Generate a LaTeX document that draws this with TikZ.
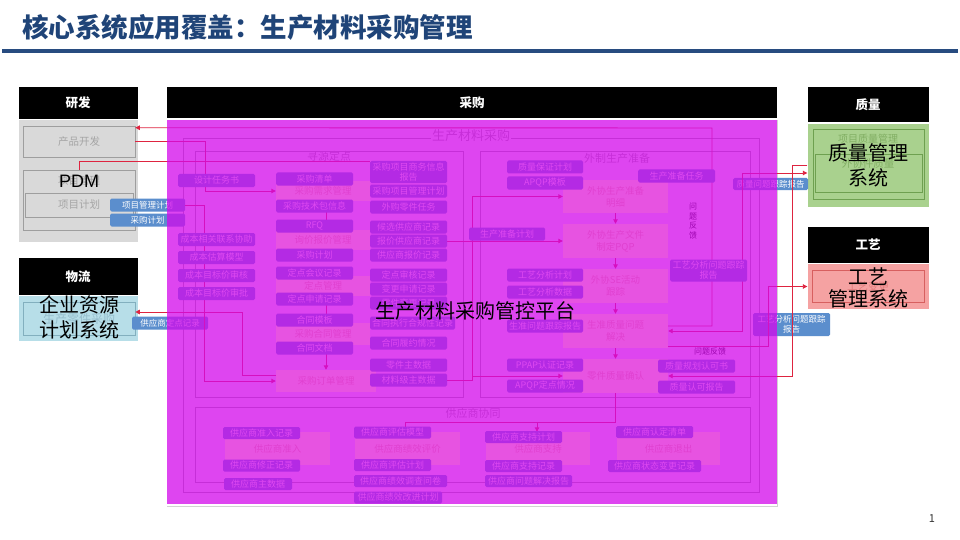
\documentclass[tikz,border=0pt]{standalone}
\usepackage{fontspec}
\setmainfont{Noto Sans CJK SC}
\newfontfamily\latinf{Liberation Sans}
\usetikzlibrary{arrows.meta}
\definecolor{titleblue}{RGB}{31,68,120}
\definecolor{ruleblue}{RGB}{40,76,128}
\definecolor{boxblue}{RGB}{91,142,205}
\definecolor{boxpurple}{RGB}{180,42,228}
\definecolor{boxptext}{RGB}{223,72,241}
\definecolor{pinkbox}{RGB}{255,228,238}
\definecolor{pinktext}{RGB}{205,120,140}
\definecolor{pinktint}{RGB}{255,130,200}
\definecolor{framegray}{RGB}{160,160,160}
\definecolor{linered}{RGB}{222,36,64}
\definecolor{magov}{RGB}{212,8,236}
\definecolor{panelgray}{RGB}{217,217,217}
\definecolor{panelblue}{RGB}{183,222,232}
\definecolor{panelgreen}{RGB}{169,209,142}
\definecolor{panelpink}{RGB}{245,162,162}
\definecolor{gboxline}{RGB}{158,158,158}
\definecolor{gboxtext}{RGB}{165,165,165}
\definecolor{bboxline}{RGB}{130,175,190}
\definecolor{bboxtext}{RGB}{150,190,205}
\definecolor{grline}{RGB}{110,160,80}
\definecolor{grtext}{RGB}{130,175,100}
\definecolor{pkline}{RGB}{215,95,95}
\definecolor{pktext}{RGB}{225,125,125}
\begin{document}
\begin{tikzpicture}[x=1pt,y=-1pt,
  hdr/.style={fill=black, text=white, inner sep=0pt, font=\bfseries\fontsize{12.5}{14}\selectfont},
  panel/.style={inner sep=0pt, draw=none},
  bb/.style={fill=boxpurple, text=boxptext, rounded corners=1.5pt, inner sep=0pt, minimum height=13pt, font=\fontsize{9}{10}\selectfont, align=center},
  lb/.style={fill=boxblue, text=white, rounded corners=1.5pt, inner sep=0pt, minimum height=13pt, font=\fontsize{8.5}{9.5}\selectfont, align=center},
  pk/.style={fill=pinkbox, text=pinktext, inner sep=0pt, font=\fontsize{9.5}{12}\selectfont, align=center},
  tint/.style={fill=pinktint, opacity=0.3},
  frm/.style={draw=framegray, line width=0.6pt, inner sep=0pt},
  ftitle/.style={text=framegray, inner sep=1pt, font=\fontsize{11}{12}\selectfont},
  con/.style={draw=linered, line width=0.9pt},
  arr/.style={-{Triangle[length=4.5pt,width=4.5pt]}},
  gbox/.style={draw=gboxline, text=gboxtext, line width=0.6pt, inner sep=0pt, font=\fontsize{10.5}{12}\selectfont},
  big/.style={text=black, inner sep=0pt, align=center, font=\fontsize{20}{25}\selectfont},
  fb/.style={text=black, inner sep=0pt, align=center, font=\fontsize{8}{9.5}\selectfont}
]
\useasboundingbox (0,0) rectangle (960,540);
\fill[white] (0,0) rectangle (960,540);

% title
\node[anchor=west, text=titleblue, inner sep=0pt, font=\bfseries\fontsize{26.5}{29}\selectfont] (title) at (22,27) {核心系统应用覆盖：生产材料采购管理};
\draw[ruleblue, line width=3.5pt] (2,51) -- (958,51);
\node[inner sep=0pt, text=black!80, font=\fontsize{11}{12}\selectfont] (pgno) at (932,519) {1};

% headers
\node[hdr, minimum width=119, minimum height=32] (hYF) at (78,103) {研发};
\node[hdr, minimum width=610, minimum height=31] (hCG) at (472,103) {采购};
\node[hdr, minimum width=119, minimum height=37] (hWL) at (78,276.5) {物流};
\node[hdr, minimum width=121, minimum height=35] (hZL) at (868,104.5) {质量};
\node[hdr, minimum width=121, minimum height=36] (hGY) at (868,245) {工艺};

% side panels
\node[panel, fill=panelgray, minimum width=119, minimum height=122] (pYF) at (78,181) {};
\node[panel, fill=panelblue, minimum width=119, minimum height=45] (pWL) at (78,318.5) {};
\node[panel, fill=panelgreen, minimum width=121, minimum height=83] (pZL) at (868,165.5) {};
\node[panel, fill=panelpink, minimum width=121, minimum height=45] (pGY) at (868,286.5) {};

\node[gbox, minimum width=112, minimum height=31] (cpkf) at (79,141.5) {产品开发};
\node[gbox, minimum width=112, minimum height=60] (xmgl) at (79,200) {};
\node[text=gboxtext, inner sep=0pt, font=\fontsize{10.5}{12}\selectfont] (xmglT) at (79,180) {项目管理};
\node[gbox, minimum width=108, minimum height=24] (xmjh) at (79,205) {项目计划};

\node[gbox, draw=bboxline, text=bboxtext, minimum width=112, minimum height=33, font=\fontsize{12}{13}\selectfont] (scljcg) at (79,318.5) {生产零件采购};

\node[gbox, draw=grline, text=grtext, minimum width=111, minimum height=70] (xmzl) at (868.5,164) {};
\node[text=grtext, inner sep=0pt, font=\fontsize{10}{12}\selectfont] (xmzlT) at (868,139) {项目质量管理};
\node[gbox, draw=grline, minimum width=107, minimum height=38] (wxj) at (868.5,173) {};
\node[text=grtext, inner sep=0pt, font=\fontsize{10.5}{12}\selectfont] (wxjT) at (868,164) {外协件质量};
\node[gbox, draw=pkline, text=pktext, minimum width=112, minimum height=32] (gybg) at (868,286) {工艺变更};

% purchase panel border
\draw[gray!35, line width=0.8pt] (167,506) -- (777,506) -- (777,120);

% frames inside
\node[frm, minimum width=576, minimum height=354] (fOuter) at (471,315) {};
\node[frm, minimum width=268, minimum height=246] (fXY) at (329,274) {};
\node[frm, minimum width=270, minimum height=246] (fWZ) at (615,274) {};
\node[frm, minimum width=555, minimum height=75] (fGY) at (472.5,444.5) {};
\node[ftitle, fill=white, font=\fontsize{13}{14}\selectfont] (tOuter) at (471,136) {生产材料采购};
\node[ftitle] (tXY) at (329,156) {寻源定点};
\node[ftitle] (tWZ) at (617,158) {外制生产准备};
\node[ftitle] (tGYS) at (473,413) {供应商协同};

% pink process boxes
\node[pk, minimum width=94, minimum height=20] (p21) at (323,191) {采购需求管理};
\node[pk, minimum width=94, minimum height=20] (p22) at (323,240) {询价报价管理};
\node[pk, minimum width=94, minimum height=20] (p23) at (323,286) {定点管理};
\node[pk, minimum width=94, minimum height=22] (p24) at (323,334) {采购合同管理};
\node[pk, minimum width=100, minimum height=22] (p25) at (326,381) {采购订单管理};

\node[pk, minimum width=105, minimum height=33] (q1) at (615.5,196.5) {外协生产准备\\明细};
\node[pk, minimum width=105, minimum height=34] (q2) at (615.5,241) {外协生产文件\\制定PQP};
\node[pk, minimum width=105, minimum height=34] (q3) at (615.5,286) {外协SE活动\\跟踪};
\node[pk, minimum width=105, minimum height=34] (q4) at (615.5,331) {生准质量问题\\解决};
\node[pk, minimum width=105, minimum height=34] (q5) at (615.5,376) {零件质量确认};

\node[pk, minimum width=105, minimum height=33] (ps1) at (277.5,448.5) {供应商准入};
\node[pk, minimum width=105, minimum height=33] (ps2) at (407.5,448.5) {供应商绩效评价};
\node[pk, minimum width=104, minimum height=33] (ps3) at (538,448.5) {供应商支持};
\node[pk, minimum width=103, minimum height=33] (ps4) at (668.5,448.5) {供应商退出};

% named points
\coordinate (x537) at (537,0);
\coordinate (x405) at (405,0);
\coordinate (j1) at (472,376);
\coordinate (b313e) at (447,380);
\coordinate (b35e) at (447,241);
\coordinate (b31nw) at (370,161);
\coordinate (c328) at (326,0);

% crossing labels
\node[lb, minimum width=75] (lbl1) at (147.5,205) {项目管理计划};
\node[lb, minimum width=75] (lbl2) at (147.5,220) {采购计划};
\node[lb, minimum width=76] (lbl3) at (170,323) {供应商定点记录};
\node[lb, minimum width=75, minimum height=12] (lbl4) at (770.5,184) {质量问题跟踪报告};
\node[lb, minimum width=77, minimum height=23] (lbl5) at (791.5,324.5) {工艺分析问题跟踪\\报告};

% connectors
\draw[con, arr] ([yshift=5pt]q4.east) -| (712,128) -- ([yshift=-2pt]cpkf.north east);
\draw[con, arr] (cpkf.east) -| (205,191) -- (p21.west);
\draw[con] (xmgl.north) |- (b31nw);
\draw[con, arr] (b313e) -| (472,196.5) -- (q1.west);
\draw[con, arr] (b35e) -- (q2.west);
\draw[con, arr] (j1) -- (q5.west);
\draw[con, arr] (q1.south) -- (q2.north);
\draw[con, arr] (q2.south) -- (q3.north);
\draw[con, arr] (q3.south) -- (q4.north);
\draw[con, arr] (q4.south) -- (q5.north);
\draw[con] (c328 |- 0,212) -- (c328 |- 0,220);
\draw[con] (c328 |- 0,305) -- (c328 |- 0,314);
\draw[con, arr] (c328 |- 0,354) -- (p25.north);
\draw[con, {Triangle[length=4.5pt,width=4.5pt]}-{Triangle[length=4.5pt,width=4.5pt]}] (q4.east) -| (742,173) -- ([yshift=-7.5pt]pZL.west);
\draw[con, arr] (pZL.west) -| (792,376) -- (q5.east);
\draw[con, arr] ([yshift=-15pt]q4.east) -| (768,286.5) -- (pGY.west);
\draw[con, arr] (q5.south) |- (537,422) -- (x537 |- ps3.north);
\draw[con, arr] (q5.south) |- (405,422) -- (x405 |- ps2.north);
\draw[con, arr] (lbl1.east) -| (204,381) -- (p25.west);
\draw[con, arr] ([yshift=6pt]p25.west) -| (242,312) -- ([yshift=6.5pt]scljcg.east);

\node[fb] (fk1) at (693,221) {问\\题\\反\\馈};
\node[fb] (fk2) at (710,351) {问题反馈};

% magenta overlay
\fill[magov, opacity=0.75] (167,120) rectangle (777,504);
\foreach \n in {p21,p22,p23,p24,p25,q1,q2,q3,q4,q5,ps1,ps2,ps3,ps4}
  \fill[tint] (\n.north west) rectangle (\n.south east);

% boxes (seen through the overlay): column 1
\node[bb, minimum width=77] (b11) at (216.5,180.5) {设计任务书};
\node[bb, minimum width=77] (b12) at (216.5,239.5) {成本相关联系协助};
\node[bb, minimum width=77] (b13) at (216.5,257.5) {成本估算模型};
\node[bb, minimum width=77] (b14) at (216.5,275.5) {成本目标价审核};
\node[bb, minimum width=77] (b15) at (216.5,293.5) {成本目标价审批};
% column 2
\node[bb, minimum width=77] (b21) at (314.5,179) {采购清单};
\node[bb, minimum width=77] (b22) at (314.5,206) {采购技术包信息};
\node[bb, minimum width=77] (b23) at (314.5,226) {RFQ};
\node[bb, minimum width=77] (b24) at (314.5,255) {采购计划};
\node[bb, minimum width=77] (b25) at (314.5,273) {定点会议记录};
\node[bb, minimum width=77] (b26) at (314.5,299) {定点申请记录};
\node[bb, minimum width=77] (b27) at (314.5,320) {合同模板};
\node[bb, minimum width=77] (b28) at (314.5,348) {合同文档};
% column 3
\node[bb, minimum width=77, minimum height=22] (b31) at (408.5,172) {采购项目商务信息\\报告};
\node[bb, minimum width=77] (b32) at (408.5,191) {采购项目管理计划};
\node[bb, minimum width=77] (b33) at (408.5,207) {外购零件任务};
\node[bb, minimum width=77] (b34) at (408.5,227) {候选供应商记录};
\node[bb, minimum width=77] (b35) at (408.5,241) {报价供应商记录};
\node[bb, minimum width=77] (b36) at (408.5,255) {供应商报价记录};
\node[bb, minimum width=77] (b37) at (408.5,275) {定点审核记录};
\node[bb, minimum width=77] (b38) at (408.5,289) {变更申请记录};
\node[bb, minimum width=77] (b39) at (408.5,303) {零件变更记录};
\node[bb, minimum width=85] (b310) at (412.5,323) {合同执行合规性记录};
\node[bb, minimum width=77] (b311) at (408.5,343) {合同履约情况};
\node[bb, minimum width=77] (b312) at (408.5,365) {零件主数据};
\node[bb, minimum width=77] (b313) at (408.5,380) {材料级主数据};
% column 4
\node[bb, minimum width=76] (b41) at (545,167) {质量保证计划};
\node[bb, minimum width=76] (b42) at (545,183) {APQP模板};
\node[bb, minimum width=76] (b43) at (507,234) {生产准备计划};
\node[bb, minimum width=76] (b44) at (545,275) {工艺分析计划};
\node[bb, minimum width=76] (b45) at (545,292) {工艺分析数据};
\node[bb, minimum width=76] (b46) at (545,326) {生准问题跟踪报告};
\node[bb, minimum width=76] (b47) at (545,365) {PPAP认证记录};
\node[bb, minimum width=76] (b48) at (545,386) {APQP定点情况};
\node[bb, minimum width=77] (b51) at (676.5,176) {生产准备任务};
\node[bb, minimum width=77, minimum height=22] (b52) at (708.5,270.5) {工艺分析问题跟踪\\报告};
\node[bb, minimum width=77] (b53) at (696.5,366) {质量规划认可书};
\node[bb, minimum width=77] (b54) at (696.5,387) {质量认可报告};
% supplier boxes
\node[bb, minimum width=77, minimum height=12] (s11) at (261.5,433) {供应商准入记录};
\node[bb, minimum width=77, minimum height=12] (s12) at (261.5,465.5) {供应商修正记录};
\node[bb, minimum width=68, minimum height=12] (s13) at (258,484) {供应商主数据};
\node[bb, minimum width=77, minimum height=12] (s21) at (392.5,432.5) {供应商评估模型};
\node[bb, minimum width=77, minimum height=12] (s22) at (392.5,465) {供应商评估计划};
\node[bb, minimum width=93, minimum height=12] (s23) at (400.5,481) {供应商绩效调查问卷};
\node[bb, minimum width=88, minimum height=12] (s24) at (398,497.5) {供应商绩效改进计划};
\node[bb, minimum width=77, minimum height=12] (s31) at (523.5,437) {供应商支持计划};
\node[bb, minimum width=77, minimum height=12] (s32) at (523.5,466) {供应商支持记录};
\node[bb, minimum width=87, minimum height=12] (s33) at (528.5,481) {供应商问题解决报告};
\node[bb, minimum width=77, minimum height=12] (s41) at (654.5,432) {供应商认定清单};
\node[bb, minimum width=93, minimum height=12] (s42) at (654.5,466) {供应商状态变更记录};

% overlay big texts
\node[inner sep=0pt, font=\latinf\fontsize{18}{20}\selectfont] (pdm) at (79,181) {PDM};
\node[big] (erp) at (79,317.5) {企业资源\\计划系统};
\node[big] (qms) at (868,165) {质量管理\\系统};
\node[big, font=\fontsize{20}{22}\selectfont] (pms) at (868,287.5) {工艺\\管理系统};
\node[big] (plat) at (475,311) {生产材料采购管控平台};
\end{tikzpicture}
\end{document}
